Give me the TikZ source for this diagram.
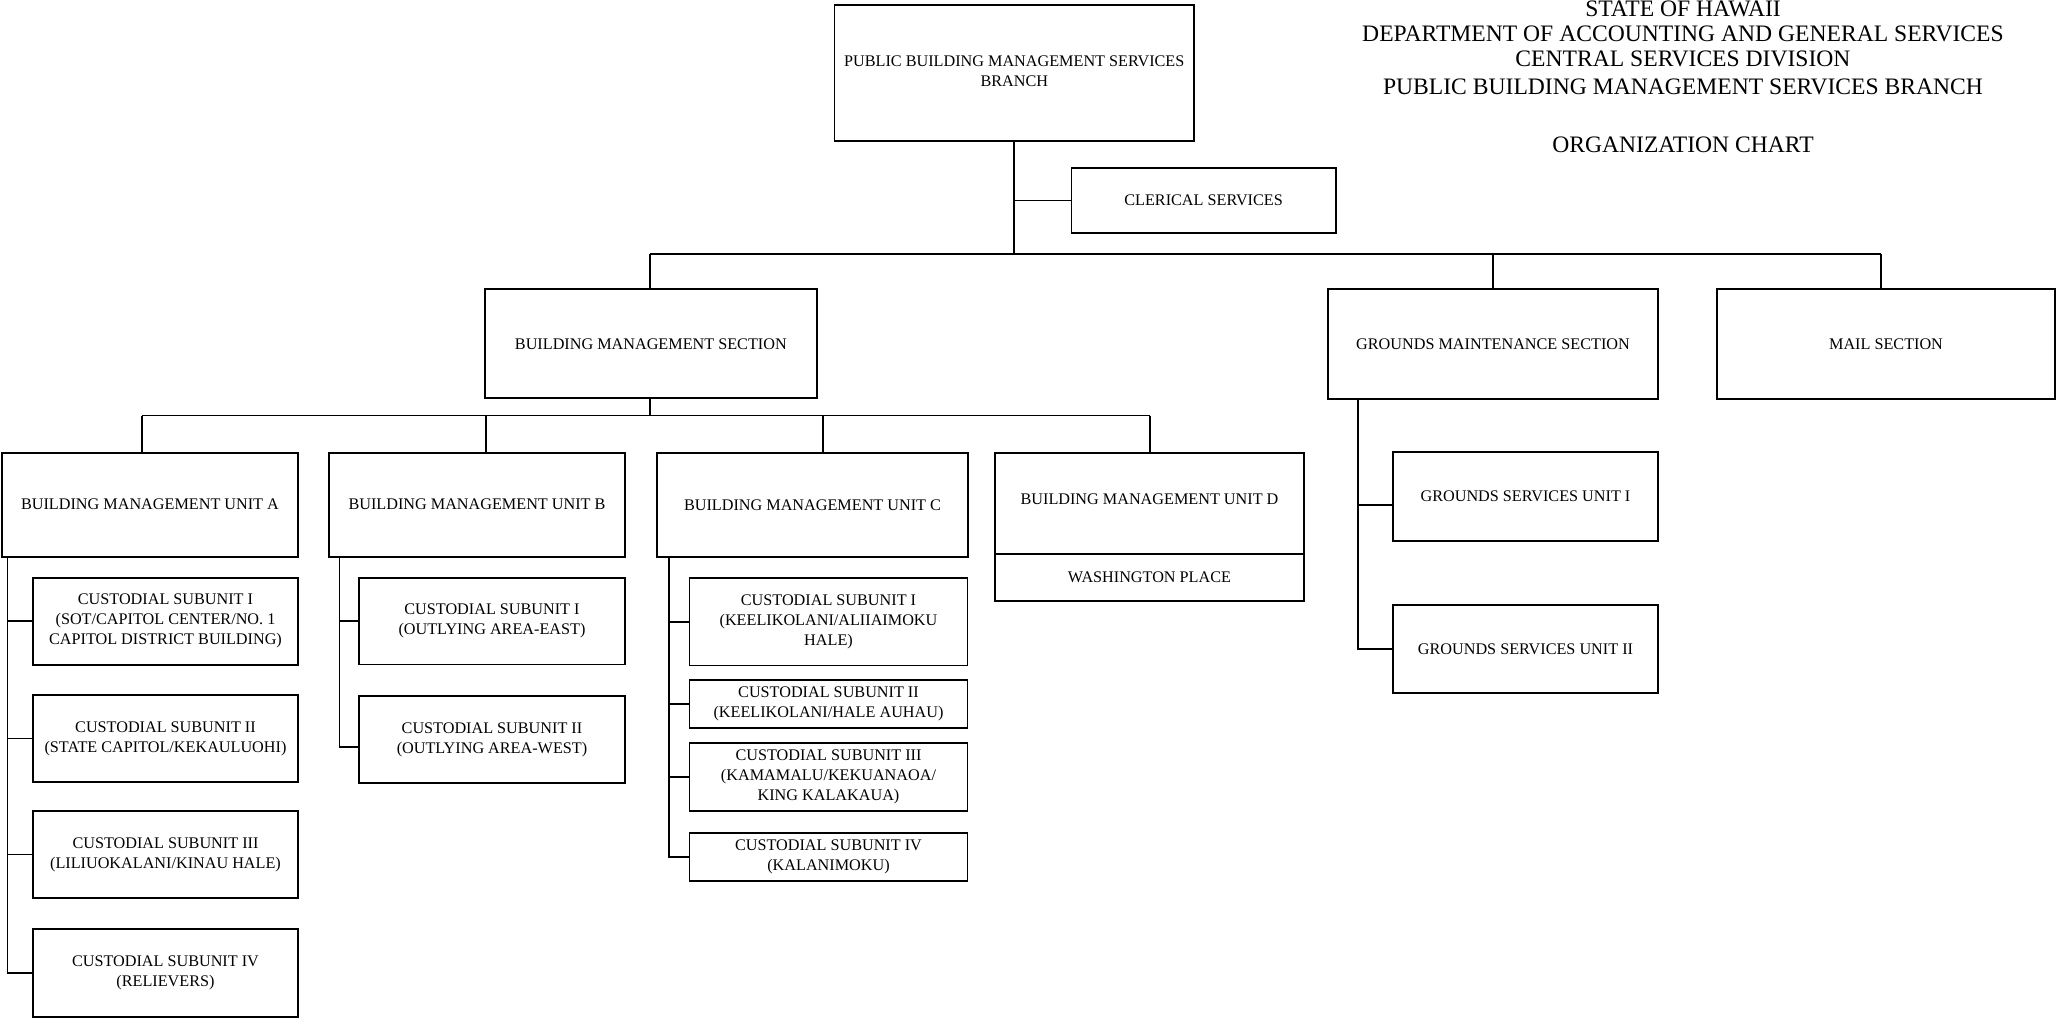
\documentclass[tikz,border=0pt]{standalone}
\usepackage{fontspec}
\setmainfont{Liberation Serif}
\tikzset{
  box/.style={draw, line width=0.95pt, inner sep=0pt, align=center,
              font=\fontsize{8.1}{10}\selectfont},
  wire/.style={line width=0.95pt},
  titletext/.style={anchor=base, inner sep=0pt, font=\fontsize{11.8}{13}\selectfont}
}
\begin{document}
\begin{tikzpicture}[x=0.5pt, y=-0.5pt]
\useasboundingbox (0,0) rectangle (2059,1022);

% title
\node[titletext] (t1) at (1683,17) {STATE OF HAWAII};
\node[titletext] (t2) at (1683,42) {DEPARTMENT OF ACCOUNTING AND GENERAL SERVICES};
\node[titletext] (t3) at (1683,67) {CENTRAL SERVICES DIVISION};
\node[titletext] (t4) at (1683,94.3) {PUBLIC BUILDING MANAGEMENT SERVICES BRANCH};
\node[titletext] (t5) at (1683,152) {ORGANIZATION CHART};

% boxes
\node[box, minimum width=179.75pt, minimum height=68pt] (top) at (1014.25,73) {\raisebox{-2pt}{\begin{tabular}{@{}c@{}}PUBLIC BUILDING MANAGEMENT SERVICES\\BRANCH\end{tabular}}};
\node[box, minimum width=132.1pt, minimum height=32.8pt] (cler) at (1203.6,200.5) {CLERICAL SERVICES};
\node[box, minimum width=165.85pt, minimum height=54.5pt] (bms) at (650.85,343.8) {BUILDING MANAGEMENT SECTION};
\node[box, minimum width=165pt, minimum height=54.85pt] (gm) at (1493,344.15) {GROUNDS MAINTENANCE SECTION};
\node[box, minimum width=169pt, minimum height=54.85pt] (mail) at (1886,344.15) {MAIL SECTION};

\node[box, minimum width=148pt, minimum height=52pt] (uA) at (150,504.7) {BUILDING MANAGEMENT UNIT A};
\node[box, minimum width=148pt, minimum height=52pt] (uB) at (477,504.7) {BUILDING MANAGEMENT UNIT B};
\node[box, minimum width=155.5pt, minimum height=52.15pt] (uC) at (812.5,504.85) {BUILDING MANAGEMENT UNIT C};
\node[box, minimum width=154.5pt, minimum height=50.65pt] (uD) at (1149.5,503.35) {\raisebox{4.2pt}{BUILDING MANAGEMENT UNIT D}};
\node[box, minimum width=154.5pt, minimum height=23.5pt] (wp) at (1149.5,577.5) {WASHINGTON PLACE};

\node[box, minimum width=132.5pt, minimum height=43.65pt] (aI) at (165.5,621.35) {CUSTODIAL SUBUNIT I\\(SOT/CAPITOL CENTER/NO. 1\\CAPITOL DISTRICT BUILDING)};
\node[box, minimum width=132.5pt, minimum height=43.5pt] (aII) at (165.5,738.5) {CUSTODIAL SUBUNIT II\\(STATE CAPITOL/KEKAULUOHI)};
\node[box, minimum width=132.5pt, minimum height=43.5pt] (aIII) at (165.5,854.5) {CUSTODIAL SUBUNIT III\\(LILIUOKALANI/KINAU HALE)};
\node[box, minimum width=132.5pt, minimum height=44pt] (aIV) at (165.5,973) {CUSTODIAL SUBUNIT IV\\(RELIEVERS)};

\node[box, minimum width=133pt, minimum height=43.4pt] (bI) at (492,621.1) {CUSTODIAL SUBUNIT I\\(OUTLYING AREA-EAST)};
\node[box, minimum width=133pt, minimum height=43.5pt] (bII) at (492,739.5) {CUSTODIAL SUBUNIT II\\(OUTLYING AREA-WEST)};

\node[box, minimum width=139pt, minimum height=43.9pt] (cI) at (828.5,621.6) {CUSTODIAL SUBUNIT I\\(KEELIKOLANI/ALIIAIMOKU\\HALE)};
\node[box, minimum width=139pt, minimum height=23.85pt] (cII) at (828.5,703.85) {CUSTODIAL SUBUNIT II\\(KEELIKOLANI/HALE AUHAU)};
\node[box, minimum width=139pt, minimum height=33.85pt] (cIII) at (828.5,777.15) {CUSTODIAL SUBUNIT III\\(KAMAMALU/KEKUANAOA/\\KING KALAKAUA)};
\node[box, minimum width=139pt, minimum height=24pt] (cIV) at (828.5,856.7) {CUSTODIAL SUBUNIT IV\\(KALANIMOKU)};

\node[box, minimum width=132.5pt, minimum height=44.2pt] (gsI) at (1525.5,496.5) {GROUNDS SERVICES UNIT I};
\node[box, minimum width=132.5pt, minimum height=44.15pt] (gsII) at (1525.5,649.15) {GROUNDS SERVICES UNIT II};

% bus coordinates
\coordinate (b1L) at (650,254);
\coordinate (b1R) at (1880.8,254);
\coordinate (b2A) at (142,415.5);
\coordinate (b2B) at (486,415.5);
\coordinate (b2C) at (823,415.5);
\coordinate (b2D) at (1150,415.5);
\coordinate (lA) at (7.5,0);
\coordinate (lB) at (339.5,0);
\coordinate (lC) at (668.8,0);
\coordinate (lG) at (1358,0);

% top level
\draw[wire] (top.south) -- (top.south |- b1L);
\draw[wire] (cler.west) -- (cler.west -| top.south);
\draw[wire] (b1L) -- (b1R);
\draw[wire] (b1L) -- (b1L |- bms.north);
\draw[wire] (gm.north) -- (gm.north |- b1L);
\draw[wire] (b1R) -- (b1R |- mail.north);

% second level
\draw[wire] (b1L |- bms.south) -- (b1L |- b2A);
\draw[wire] (b2A) -- (b2D);
\draw[wire] (b2A) -- (b2A |- uA.north);
\draw[wire] (b2B) -- (b2B |- uB.north);
\draw[wire] (b2C) -- (b2C |- uC.north);
\draw[wire] (b2D) -- (b2D |- uD.north);

% unit A children
\draw[wire] (lA |- uA.south) |- (aI.west);
\draw[wire] (lA |- uA.south) |- (aII.west);
\draw[wire] (lA |- uA.south) |- (aIII.west);
\draw[wire] (lA |- uA.south) |- (aIV.west);

% unit B children
\draw[wire] (lB |- uB.south) |- (bI.west);
\draw[wire] (lB |- uB.south) |- ([yshift=-3.75pt]bII.west);

% unit C children
\draw[wire] (lC |- uC.south) |- (cI.west);
\draw[wire] (lC |- uC.south) |- (cII.west);
\draw[wire] (lC |- uC.south) |- (cIII.west);
\draw[wire] (lC |- uC.south) |- (cIV.west);

% grounds children
\draw[wire] (lG |- gm.south) |- ([yshift=-4.25pt]gsI.west);
\draw[wire] (lG |- gm.south) |- (gsII.west);
\end{tikzpicture}
\end{document}
